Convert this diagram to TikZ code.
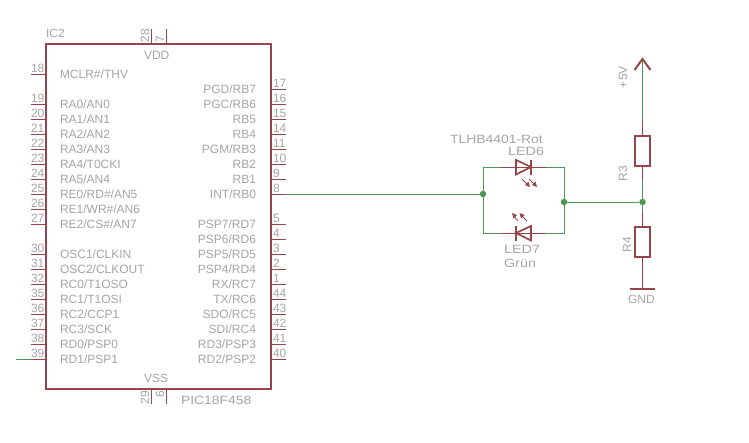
\documentclass[tikz,border=0pt]{standalone}
\usepackage{fontspec}
\setmainfont{Liberation Sans}
\definecolor{sym}{RGB}{150,70,75}
\definecolor{wire}{RGB}{80,150,85}
\definecolor{lbl}{RGB}{165,165,165}
\tikzset{
  x=1pt,y=-1pt,
  txt/.style={inner sep=0pt,outer sep=0pt,text=lbl,font=\fontsize{12}{12}\selectfont},
  pt/.style={coordinate},
  pinline/.style={draw=sym,line width=1pt},
  body/.style={draw=sym,line width=2pt,line join=miter},
  wireline/.style={draw=wire,line width=1pt},
  junction/.style={circle,fill=wire,inner sep=0pt,minimum size=6.5pt},
  resbox/.style={draw=sym,line width=2pt,fill=none,minimum width=15pt,minimum height=30pt,inner sep=0pt},
}
\begin{document}
\begin{tikzpicture}
\useasboundingbox (0,0) rectangle (749,442);
\fill[white] (0,0) rectangle (749,442);
% IC
\draw[body] (46,44) rectangle (271,389);
\foreach \n/\y/\t in {18/74/{MCLR\#/THV},19/104/{RA0/AN0},20/119/{RA1/AN1},21/134/{RA2/AN2},22/149/{RA3/AN3},23/164/{RA4/T0CKI},24/179/{RA5/AN4},25/194/{RE0/RD\#/AN5},26/209/{RE1/WR\#/AN6},27/224/{RE2/CS\#/AN7},30/254/{OSC1/CLKIN},31/269/{OSC2/CLKOUT},32/284/{RC0/T1OSO},35/299/{RC1/T1OSI},36/314/{RC2/CCP1},37/329/{RC3/SCK},38/344/{RD0/PSP0},39/359/{RD1/PSP1}}{
  \draw[pinline] (31,\y) -- (46,\y);
  \node[txt,anchor=base west] at (31,\y-2) {\n};
  \node[txt,anchor=base west] at (60,\y+4.5) {\t};
}
\foreach \n/\y/\t in {17/89/{PGD/RB7},16/104/{PGC/RB6},15/119/{RB5},14/134/{RB4},11/149/{PGM/RB3},10/164/{RB2},9/179/{RB1},8/194/{INT/RB0},5/224/{PSP7/RD7},4/239/{PSP6/RD6},3/254/{PSP5/RD5},2/269/{PSP4/RD4},1/284/{RX/RC7},44/299/{TX/RC6},43/314/{SDO/RC5},42/329/{SDI/RC4},41/344/{RD3/PSP3},40/359/{RD2/PSP2}}{
  \draw[pinline] (271,\y) -- (286,\y);
  \node[txt,anchor=base west] at (273,\y-2) {\n};
  \node[txt,anchor=base east] at (256,\y+4.5) {\t};
}
\draw[pinline] (151,29) -- (151,44);
\draw[pinline] (166,29) -- (166,44);
\draw[pinline] (151,389) -- (151,404);
\draw[pinline] (166,389) -- (166,404);
\node[txt,anchor=base west,rotate=90] at (149,42) {28};
\node[txt,anchor=base west,rotate=90] at (164,42) {7};
\node[txt,anchor=base east,rotate=90] at (149,391) {29};
\node[txt,anchor=base east,rotate=90] at (164,391) {6};
\node[txt,anchor=base west] (vdd) at (144,59) {VDD};
\node[txt,anchor=base west] (vss) at (144,382) {VSS};
\node[txt,anchor=base west] (icname) at (46,37) {IC2};
\node[txt,anchor=base west,xscale=1.16,transform shape] (ictype) at (181,404) {PIC18F458};
% coordinates
\coordinate (p8) at (286,194);
\coordinate (p39) at (31,359);
\coordinate (p39end) at (16,359);
\node[junction] (jl) at (483,194) {};
\node[junction] (jr) at (564,202) {};
\node[junction] (jm) at (642.5,202) {};
\coordinate (tl) at (483,167);
\coordinate (tr) at (564,167);
\coordinate (bl) at (483,233);
\coordinate (br) at (564,233);
\coordinate (led6a) at (501,167);
\coordinate (led6k) at (546,167);
\coordinate (led7a) at (546,233);
\coordinate (led7k) at (501,233);
% wires
\draw[wireline] (p39end) -- (p39);
\draw[wireline] (p8) -- (jl);
\draw[wireline] (led6a) -- (tl) -- (jl) -- (bl) -- (led7k);
\draw[wireline] (led6k) -- (tr) -- (jr) -- (br) -- (led7a);
\draw[wireline] (jr) -- (jm);
% LED6
\draw[pinline] (led6a) -- (531,167);
\draw[pinline] (led6k) -- (531,167);
\draw[body,line width=1.7pt] (516,160) -- (516,174.5) -- (531,167) -- cycle;
\draw[body,line width=1.7pt] (531,159.5) -- (531,175);
\draw[sym,line width=.8pt] (522,179) -- (528,185);
\draw[sym,line width=.8pt] (529,179) -- (535,185);
\fill[sym] (530,187) -- (525,185) -- (528.5,181.5) -- cycle;
\fill[sym] (537,187) -- (532,185) -- (535.5,181.5) -- cycle;
% LED7
\draw[pinline] (led7k) -- (516,233);
\draw[pinline] (led7a) -- (516,233);
\draw[body,line width=1.7pt] (531,226) -- (531,240.5) -- (516,233) -- cycle;
\draw[body,line width=1.7pt] (516,225.5) -- (516,241);
\draw[sym,line width=.8pt] (518,221) -- (514,216);
\draw[sym,line width=.8pt] (527,221) -- (521,215);
\fill[sym] (512,213) -- (517,215) -- (513.5,218.5) -- cycle;
\fill[sym] (519.5,213) -- (524.5,215) -- (521,218.5) -- cycle;
\node[txt,anchor=base west,xscale=1.16,transform shape] (t1) at (450,143) {TLHB4401-Rot};
\node[txt,anchor=base west,xscale=1.2,transform shape] (t2) at (508,155) {LED6};
\node[txt,anchor=base west,xscale=1.2,transform shape] (t3) at (504,253) {LED7};
\node[txt,anchor=base west,xscale=1.2,transform shape] (t4) at (504,267) {Grün};
% Right column
\node[resbox] (r3) at (642.5,151) {};
\node[resbox] (r4) at (642.5,242) {};
\coordinate (vcc) at (642.5,59);
\coordinate (r3top) at (642.5,121);
\coordinate (r3bot) at (642.5,181);
\coordinate (r4top) at (642.5,212);
\coordinate (gnd) at (642.5,289);
\draw[wireline] (vcc) -- (r3top);
\draw[wireline] (r3bot) -- (jm) -- (r4top);
\draw[pinline] (r3top) -- (r3.north);
\draw[pinline] (r3.south) -- (r3bot);
\draw[pinline] (r4top) -- (r4.north);
\draw[pinline] (r4.south) -- (gnd);
\draw[body] (634.5,70) -- (vcc) -- (650.5,70);
\draw[body] (630,289) -- (655,289);
\node[txt,anchor=base west,rotate=90] (v5) at (627,88) {+5V};
\node[txt,anchor=base west,rotate=90] (r3l) at (627,181) {R3};
\node[txt,anchor=base west,rotate=90] (r4l) at (631,252) {R4};
\node[txt,anchor=base west] (gl) at (628,303) {GND};
\end{tikzpicture}
\end{document}
